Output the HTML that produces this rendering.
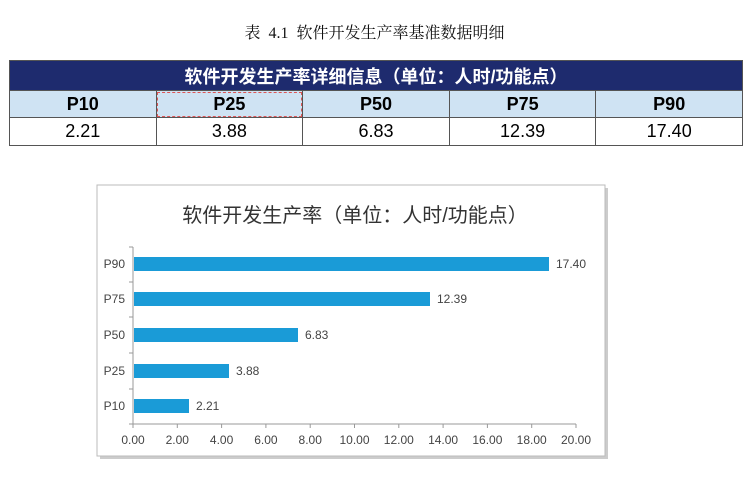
<!DOCTYPE html>
<html><head><meta charset="utf-8"><style>
body{margin:0;width:749px;height:481px;background:#fff;position:relative;overflow:hidden;font-family:"Liberation Sans","Noto Sans CJK SC",sans-serif}
.t{position:absolute;top:20px;left:0;width:749px;text-align:center;font:16px "Liberation Serif","Noto Serif CJK SC",serif;color:#111;word-spacing:4px}
table{position:absolute;left:9px;top:60px;width:734px;border-collapse:collapse;table-layout:fixed}
td{border:1px solid #555;text-align:center;padding:0}
.h td{background:#1e2b6e;color:#fff;font-size:18px;font-weight:bold;height:29px}
.p td{background:#cfe3f3;font-weight:bold;font-size:18px;height:26px}
.v td{font-size:18px;height:27px}
</style></head><body>
<div class="t">表 4.1  软件开发生产率基准数据明细</div>
<table>
<tr class="h"><td colspan="5">软件开发生产率详细信息（单位：人时/功能点）</td></tr>
<tr class="p"><td>P10</td><td style="outline:1px dashed #d55;outline-offset:-2px">P25</td><td>P50</td><td>P75</td><td>P90</td></tr>
<tr class="v"><td>2.21</td><td>3.88</td><td>6.83</td><td>12.39</td><td>17.40</td></tr>
</table>
<svg style="position:absolute;left:0;top:0" width="749" height="481">
<rect x="100" y="188" width="508" height="271" fill="#999" opacity="0.5"/>
<rect x="97" y="185" width="508" height="271" fill="#fff" stroke="#bbb"/>
<text x="355" y="222" text-anchor="middle" font-family="Liberation Sans,Noto Sans CJK SC,sans-serif" font-size="20" fill="#333">软件开发生产率（单位：人时/功能点）</text>
<g stroke="#999" stroke-width="1">
<line x1="133" y1="247" x2="133" y2="424"/>
<line x1="133" y1="424" x2="576" y2="424"/>
<line x1="129" y1="247" x2="133" y2="247"/><line x1="129" y1="282" x2="133" y2="282"/><line x1="129" y1="317" x2="133" y2="317"/><line x1="129" y1="353" x2="133" y2="353"/><line x1="129" y1="389" x2="133" y2="389"/><line x1="129" y1="424" x2="133" y2="424"/>
<line x1="133" y1="424" x2="133" y2="428"/><line x1="177.3" y1="424" x2="177.3" y2="428"/><line x1="221.6" y1="424" x2="221.6" y2="428"/><line x1="265.9" y1="424" x2="265.9" y2="428"/><line x1="310.2" y1="424" x2="310.2" y2="428"/><line x1="354.5" y1="424" x2="354.5" y2="428"/><line x1="398.8" y1="424" x2="398.8" y2="428"/><line x1="443.1" y1="424" x2="443.1" y2="428"/><line x1="487.4" y1="424" x2="487.4" y2="428"/><line x1="531.7" y1="424" x2="531.7" y2="428"/><line x1="576" y1="424" x2="576" y2="428"/>
</g>
<g fill="#1a9bd7">
<rect x="134" y="257" width="415" height="14"/>
<rect x="134" y="292" width="296" height="14"/>
<rect x="134" y="328" width="164" height="14"/>
<rect x="134" y="364" width="95" height="14"/>
<rect x="134" y="399" width="55" height="14"/>
</g>
<g font-family="Liberation Sans,sans-serif" font-size="12" fill="#444">
<text x="556" y="268">17.40</text><text x="437" y="303">12.39</text><text x="305" y="339">6.83</text><text x="236" y="375">3.88</text><text x="196" y="410">2.21</text>
<g text-anchor="end"><text x="125" y="268">P90</text><text x="125" y="303">P75</text><text x="125" y="339">P50</text><text x="125" y="375">P25</text><text x="125" y="410">P10</text></g>
<g text-anchor="middle"><text x="133" y="444">0.00</text><text x="177.3" y="444">2.00</text><text x="221.6" y="444">4.00</text><text x="265.9" y="444">6.00</text><text x="310.2" y="444">8.00</text><text x="354.5" y="444">10.00</text><text x="398.8" y="444">12.00</text><text x="443.1" y="444">14.00</text><text x="487.4" y="444">16.00</text><text x="531.7" y="444">18.00</text><text x="576" y="444">20.00</text></g>
</g>
</svg>
</body></html>
